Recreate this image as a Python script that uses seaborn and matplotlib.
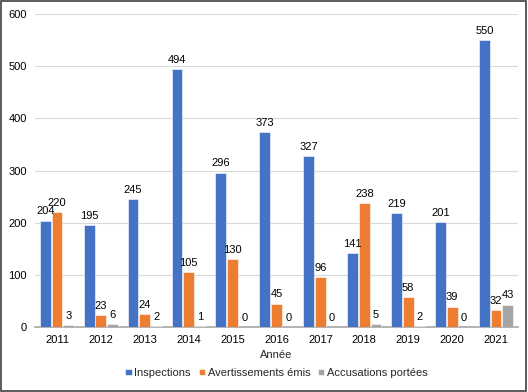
import pandas as pd
import matplotlib
matplotlib.use("Agg")
import matplotlib.pyplot as plt
import seaborn as sns
from matplotlib.patches import Rectangle

# Data
years = ["2011", "2012", "2013", "2014", "2015", "2016", "2017", "2018", "2019", "2020", "2021"]
inspections = [204, 195, 245, 494, 296, 373, 327, 141, 219, 201, 550]
avertissements = [220, 23, 24, 105, 130, 45, 96, 238, 58, 39, 32]
accusations = [3, 6, 2, 1, 0, 0, 0, 5, 2, 0, 43]
series = ["Inspections", "Avertissements émis", "Accusations portées"]
colors = ["#4472C4", "#ED7D31", "#A5A5A5"]

df = pd.DataFrame({
    "Année": years * 3,
    "Valeur": inspections + avertissements + accusations,
    "Série": [s for s in series for _ in years],
})

sns.set_style("white")
plt.rcParams['font.family'] = ['Liberation Sans', 'DejaVu Sans']
fs = 8

fig = plt.figure(figsize=(5.28, 3.92), dpi=100)
ax = fig.add_axes([35 / 528, (392 - 327) / 392, (518 - 35) / 528, (327 - 14) / 392])

sns.barplot(data=df, x="Année", y="Valeur", hue="Série", hue_order=series,
            palette=colors, width=0.8, gap=0.08, edgecolor="white", linewidth=0.4,
            saturation=1, ax=ax, zorder=3)

for cont in ax.containers:
    ax.bar_label(cont, fmt="%d", padding=3, fontsize=fs, color="#000000")

ax.set_ylim(0, 600)
ax.set_yticks(range(0, 601, 100))
ax.yaxis.grid(True, color="#D9D9D9", linewidth=0.8, zorder=0)
ax.set_axisbelow(True)
for s in ["top", "right", "left"]:
    ax.spines[s].set_visible(False)
ax.spines["bottom"].set_color("#A6A6A6")
ax.spines["bottom"].set_linewidth(1.2)
ax.tick_params(axis="both", length=0, labelsize=fs, colors="#000000", pad=6)
ax.set_ylabel("")
ax.set_xlabel("Année", fontsize=fs, labelpad=3)

handles, labels = ax.get_legend_handles_labels()
ax.legend(handles, labels, loc="center", bbox_to_anchor=(0.5, (327 - 373) / 313), ncol=3,
          frameon=False, fontsize=fs, handlelength=0.55, handleheight=0.55,
          handletextpad=0.25, columnspacing=0.7, borderpad=0)

fig.patches.append(Rectangle((0.002, 0.003), 0.995, 0.994, transform=fig.transFigure,
                             fill=False, edgecolor="#404040", linewidth=1.2))

fig.savefig("out.png", dpi=100)
